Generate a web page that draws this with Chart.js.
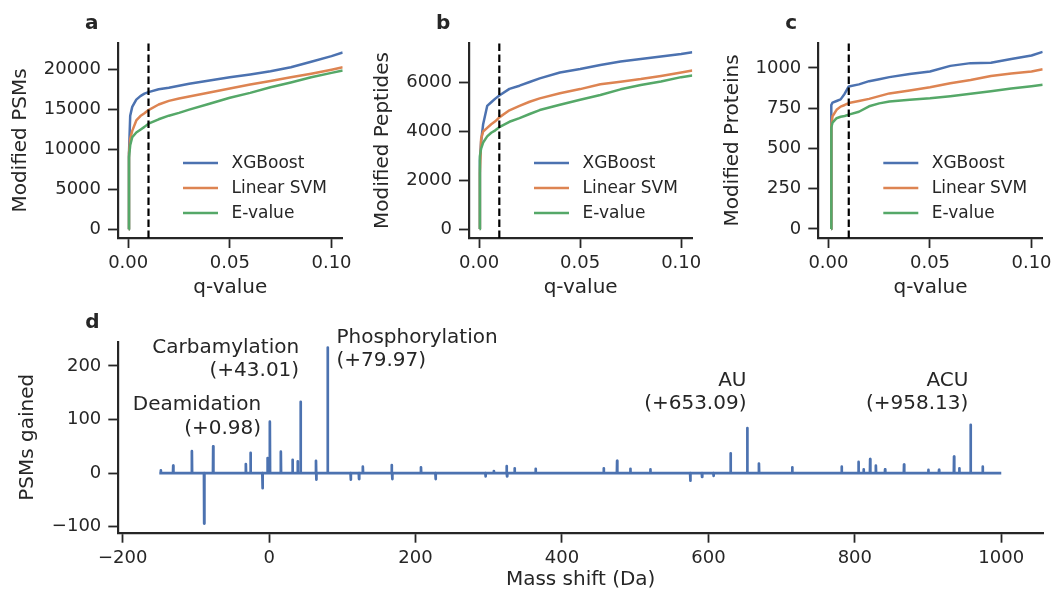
<!DOCTYPE html>
<html>
<head>
<meta charset="utf-8">
<script src="https://cdn.jsdelivr.net/npm/chart.js@4.4.1/dist/chart.umd.min.js"></script>
<style>
  html, body { margin: 0; padding: 0; background: #fff; }
  #fig { position: relative; width: 1054px; height: 597px; overflow: hidden; }
  canvas { position: absolute; }
</style>
</head>
<body>
<div id="fig">
  <canvas id="chart-a" width="355" height="310" style="left:0;top:0"></canvas>
  <canvas id="chart-b" width="350" height="310" style="left:355px;top:0"></canvas>
  <canvas id="chart-c" width="349" height="310" style="left:705px;top:0"></canvas>
  <canvas id="chart-d" width="1054" height="287" style="left:0;top:310px"></canvas>
</div>
<script>
// Series
const seriesNames = ['XGBoost', 'Linear SVM', 'E-value'];
const seriesColors = ['#4c72b0', '#dd8452', '#55a868'];
const qCutoff = 0.01;
const qTicks = [0, 0.05, 0.1];

// Panel a - modified PSMs
const qGridAB = [0.0003, 0.0004, 0.001, 0.002, 0.004, 0.006, 0.008, 0.01, 0.015, 0.02, 0.025, 0.03, 0.04, 0.05, 0.06, 0.07, 0.08, 0.09, 0.1, 0.1055];
const psmXgb = [0, 9500, 14200, 15300, 16200, 16650, 16950, 17150, 17500, 17700, 17950, 18200, 18600, 19000, 19350, 19750, 20250, 20950, 21650, 22100];
const psmSvm = [0, 9500, 11300, 12300, 13600, 14150, 14500, 14900, 15600, 16050, 16350, 16600, 17100, 17600, 18100, 18550, 19000, 19450, 19950, 20250];
const psmEval = [0, 9000, 10500, 11500, 12100, 12450, 12800, 13200, 13750, 14200, 14550, 14950, 15700, 16450, 17050, 17750, 18350, 19000, 19550, 19850];
const psmTicks = [0, 5000, 10000, 15000, 20000];

// Panel b - modified peptides
const pepXgb = [0, 2800, 3600, 4300, 5050, 5200, 5350, 5480, 5750, 5880, 6030, 6180, 6420, 6560, 6730, 6870, 6970, 7080, 7180, 7250];
const pepSvm = [0, 2300, 3700, 4000, 4150, 4300, 4420, 4580, 4870, 5050, 5220, 5360, 5570, 5740, 5940, 6040, 6150, 6280, 6420, 6500];
const pepEval = [0, 3000, 3300, 3550, 3800, 3950, 4050, 4180, 4400, 4550, 4720, 4880, 5100, 5300, 5500, 5730, 5910, 6050, 6230, 6300];
const pepTicks = [0, 2000, 4000, 6000];

// Panel c - modified proteins
const qGridC = [0.0013, 0.0014, 0.002, 0.004, 0.006, 0.008, 0.01, 0.015, 0.02, 0.025, 0.03, 0.04, 0.05, 0.06, 0.07, 0.08, 0.09, 0.1, 0.1055];
const protXgb = [0, 770, 785, 795, 805, 840, 885, 898, 918, 930, 943, 963, 978, 1013, 1030, 1033, 1055, 1077, 1100];
const protSvm = [0, 640, 700, 740, 760, 770, 782, 795, 808, 825, 842, 860, 880, 905, 925, 950, 965, 978, 992];
const protEval = [0, 630, 660, 688, 697, 702, 710, 728, 762, 780, 792, 803, 812, 825, 840, 856, 872, 887, 896];
const protTicks = [0, 250, 500, 750, 1000];

// Panel d - PSMs gained per mass shift
const massStart = -150;
const massEnd = 1000;
const spikeMass = [-148, -131, -105.5, -88.7, -76.4, -31.8, -25.4, -9, -2.2, 0.98, 16, 32, 39, 43.01, 64, 64.6, 79.97, 111.5, 122.8, 128, 167.4, 168.2, 207.4, 227.4, 295.6, 307, 324.3, 325, 335.3, 364, 457, 475.3, 493.4, 520.7, 575.3, 591.3, 607, 630.3, 653.09, 669, 714.5, 782, 805, 812, 820.9, 828.7, 841.3, 867.2, 900.4, 915, 935.5, 942.7, 958.13, 974.6];
const spikeGain = [5, 14, 41, -94, 50, 17, 38, -28, 28, 96, 40, 25, 22, 133, 23, -12, 234, -12, -11, 12, 15, -11, 11, -11, -6, 4, 13, -6, 9, 8, 9, 23, 8, 7, -14, -7, -5, 37, 84, 18, 11, 12, 21, 7, 26, 14, 7, 16, 6, 6, 31, 9, 90, 12];
const massTicks = [-200, 0, 200, 400, 600, 800, 1000];
const gainTicks = [-100, 0, 100, 200];

// Annotations (anchored in data units)
const annoLines = [['Deamidation', '(+0.98)'], ['Carbamylation', '(+43.01)'], ['Phosphorylation', '(+79.97)'], ['AU', '(+653.09)'], ['ACU', '(+958.13)']];
const annoMass = [-11, 41, 92, 652, 955];
const annoGain = [117, 224, 243, 163, 163];
const annoAlign = ['right', 'right', 'left', 'right', 'right'];

const ink = '#262626';
Chart.defaults.font.family = "'DejaVu Sans', sans-serif";
Chart.defaults.color = ink;
Chart.defaults.animation = false;

const minus = v => String(v).replace('-', '\u2212');

function fixedTicks(values) {
    return scale => { scale.ticks = values.map(v => ({ value: v })); };
}

function baseAxis(min, max, ticks, fmt, title, titlePad) {
    return {
        type: 'linear',
        min: min,
        max: max,
        afterBuildTicks: fixedTicks(ticks),
        ticks: { font: { size: 18 }, color: ink, padding: 6, callback: fmt },
        grid: { drawOnChartArea: false, drawTicks: true, tickLength: 10, tickWidth: 1.8, tickColor: ink },
        border: { display: true, color: ink, width: 2.2 },
        title: { display: true, text: title, font: { size: 20 }, color: ink, padding: titlePad }
    };
}

function xAxis(min, max, ticks, fmt, title, height, padBottom) {
    const ax = baseAxis(min, max, ticks, fmt, title, { top: 0, bottom: padBottom });
    ax.ticks.padding = 5;
    ax.afterFit = s => { s.height = height; s.paddingLeft = 0; s.paddingRight = 0; };
    return ax;
}

function yAxis(min, max, ticks, fmt, title, width, padTop) {
    const ax = baseAxis(min, max, ticks, fmt, title, { top: padTop, bottom: 0 });
    ax.ticks.padding = 7;
    ax.afterFit = s => { s.width = width; s.paddingTop = 0; s.paddingBottom = 0; };
    return ax;
}

function panelLetter(letter) {
    return {
        id: 'panelLetter',
        afterDraw(chart) {
            const ctx = chart.ctx;
            const area = chart.chartArea;
            ctx.save();
            ctx.font = "bold 20px 'DejaVu Sans', sans-serif";
            ctx.fillStyle = ink;
            ctx.textAlign = 'left';
            ctx.textBaseline = 'alphabetic';
            ctx.fillText(letter, area.left - 33, area.top - 14);
            ctx.restore();
        }
    };
}

const curveLegend = {
    id: 'curveLegend',
    afterDraw(chart) {
        const ctx = chart.ctx;
        const area = chart.chartArea;
        ctx.save();
        ctx.font = "17px 'DejaVu Sans', sans-serif";
        ctx.textAlign = 'left';
        ctx.textBaseline = 'middle';
        seriesNames.forEach((name, i) => {
            const y = area.bottom - 75 + i * 25;
            ctx.strokeStyle = seriesColors[i];
            ctx.lineWidth = 2.5;
            ctx.beginPath();
            ctx.moveTo(area.left + 65, y);
            ctx.lineTo(area.left + 100, y);
            ctx.stroke();
            ctx.fillStyle = ink;
            ctx.fillText(name, area.left + 113.5, y + 1);
        });
        ctx.restore();
    }
};

function curveDatasets(q, values, yMin, yMax) {
    const sets = values.map((vals, i) => ({
        label: seriesNames[i],
        data: q.map((x, j) => ({ x: x, y: vals[j] })),
        borderColor: seriesColors[i],
        borderWidth: 2.5,
        borderJoinStyle: 'round',
        pointRadius: 0,
        tension: 0,
        order: 3 - i
    }));
    sets.push({
        label: 'cutoff',
        data: [{ x: qCutoff, y: yMin }, { x: qCutoff, y: yMax }],
        borderColor: '#000',
        borderWidth: 2.2,
        borderDash: [7.5, 3.5],
        pointRadius: 0,
        order: 0
    });
    return sets;
}

function makeCurvePanel(id, cfg) {
    new Chart(document.getElementById(id), {
        type: 'line',
        data: { datasets: curveDatasets(cfg.q, cfg.values, cfg.yMin, cfg.yMax) },
        options: {
            responsive: false,
            animation: false,
            layout: { padding: { top: 43, right: cfg.padRight, left: 0, bottom: 0 } },
            plugins: { legend: { display: false }, tooltip: { enabled: false } },
            scales: {
                x: xAxis(-0.005, 0.1055, qTicks, v => v.toFixed(2), 'q-value', 72, 10),
                y: yAxis(cfg.yMin, cfg.yMax, cfg.yTicks, v => String(v), cfg.yTitle, cfg.yWidth, cfg.yTitlePad)
            }
        },
        plugins: [panelLetter(cfg.letter), curveLegend]
    });
}

makeCurvePanel('chart-a', {
    letter: 'a', q: qGridAB, values: [psmXgb, psmSvm, psmEval],
    yMin: -1100, yMax: 23290, yTicks: psmTicks, yTitle: 'Modified PSMs',
    yWidth: 118, yTitlePad: 9, padRight: 12.3
});
makeCurvePanel('chart-b', {
    letter: 'b', q: qGridAB, values: [pepXgb, pepSvm, pepEval],
    yMin: -365, yMax: 7630, yTicks: pepTicks, yTitle: 'Modified Peptides',
    yWidth: 114, yTitlePad: 15.5, padRight: 12.7
});
makeCurvePanel('chart-c', {
    letter: 'c', q: qGridC, values: [protXgb, protSvm, protEval],
    yMin: -56, yMax: 1155, yTicks: protTicks, yTitle: 'Modified Proteins',
    yWidth: 113.3, yTitlePad: 16, padRight: 11.3
});

// Panel d
function spikePoints() {
    const pts = [{ x: massStart, y: 0 }];
    spikeMass.forEach((m, i) => {
        pts.push({ x: m - 0.3, y: 0 }, { x: m, y: spikeGain[i] }, { x: m + 0.3, y: 0 });
    });
    pts.push({ x: massEnd, y: 0 });
    return pts;
}

const annotations = {
    id: 'annotations',
    afterDraw(chart) {
        const ctx = chart.ctx;
        const xs = chart.scales.x;
        const ys = chart.scales.y;
        ctx.save();
        ctx.font = "20px 'DejaVu Sans', sans-serif";
        ctx.fillStyle = ink;
        ctx.textBaseline = 'alphabetic';
        annoLines.forEach((lines, i) => {
            const x = xs.getPixelForValue(annoMass[i]);
            const y = ys.getPixelForValue(annoGain[i]);
            ctx.textAlign = annoAlign[i];
            lines.forEach((t, k) => ctx.fillText(t, x, y + k * 23.5));
        });
        ctx.restore();
    }
};

new Chart(document.getElementById('chart-d'), {
    type: 'line',
    data: {
        datasets: [{
            label: 'PSMs gained',
            data: spikePoints(),
            borderColor: '#4c72b0',
            borderWidth: 2.7,
            borderJoinStyle: 'round',
            pointRadius: 0,
            tension: 0
        }]
    },
    options: {
        responsive: false,
        animation: false,
        layout: { padding: { top: 31.7, right: 11, left: 0, bottom: 0 } },
        plugins: { legend: { display: false }, tooltip: { enabled: false } },
        scales: {
            x: xAxis(-206, 1057, massTicks, minus, 'Mass shift (Da)', 64.3, 5),
            y: yAxis(-111, 245, gainTicks, minus, 'PSMs gained', 118.3, 15.5)
        }
    },
    plugins: [panelLetter('d'), annotations]
});
</script>
</body>
</html>
